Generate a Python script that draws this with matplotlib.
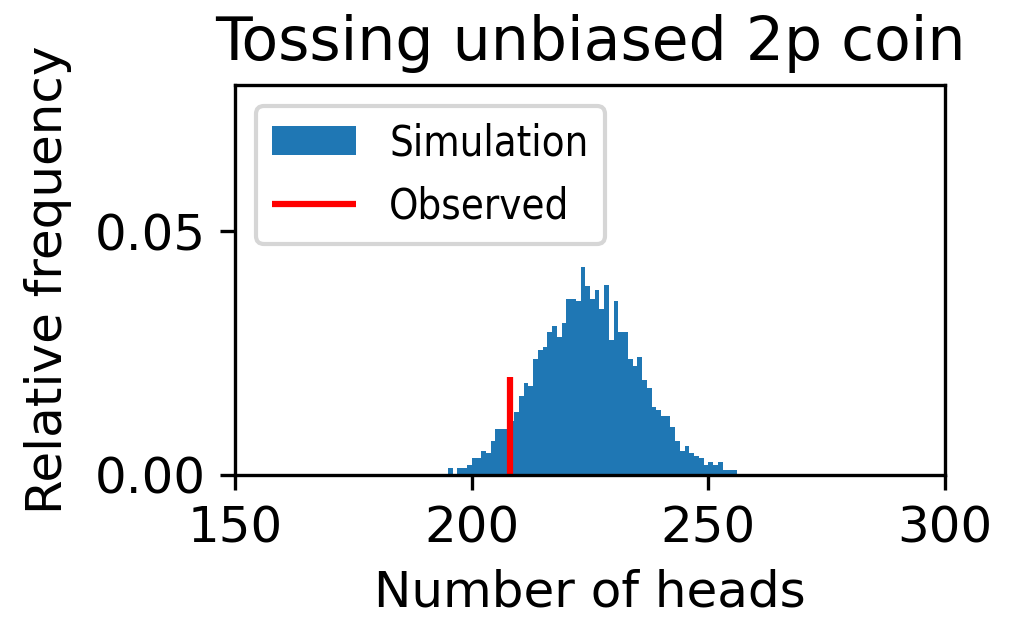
import numpy as np
import matplotlib
matplotlib.use("Agg")
from matplotlib import pyplot as plt

# relative frequency of each head count (bin [k, k+1))
heads = list(range(195, 256))
rel_freq = [
    0.0015, 0.0, 0.0015, 0.0015, 0.0021, 0.0034, 0.0034, 0.0050, 0.0045, 0.0069,  # 195-204
    0.0094, 0.0094, 0.0094, 0.0110, 0.0129, 0.0162, 0.0188, 0.0183, 0.0238, 0.0256,  # 205-214
    0.0262, 0.0293, 0.0306, 0.0283, 0.0312, 0.0361, 0.0361, 0.0356, 0.0427, 0.0387,  # 215-224
    0.0361, 0.0380, 0.0341, 0.0390, 0.0277, 0.0356, 0.0293, 0.0293, 0.0238, 0.0223,  # 225-234
    0.0242, 0.0194, 0.0178, 0.0140, 0.0134, 0.0120, 0.0120, 0.0099, 0.0069, 0.0050,  # 235-244
    0.0060, 0.0046, 0.0039, 0.0034, 0.0021, 0.0026, 0.0021, 0.0026, 0.0010, 0.0010,  # 245-254
    0.0010,                                                                          # 255
]
observed = 208
observed_height = 0.02

plt.rcParams["font.size"] = 12

fig = plt.figure(figsize=(1009 / 300, 618 / 300), dpi=300)
ax = fig.add_axes([0.2329, 0.2314, 0.7037, 0.6311])

edges = np.arange(heads[0], heads[-1] + 2)
ax.hist(heads, bins=edges, weights=rel_freq, color="#1f77b4", label="Simulation")
ax.vlines(observed, 0, observed_height, color="red", label="Observed")

ax.set_xlim(150, 300)
ax.set_ylim(0, 0.08)
ax.set_xticks([150, 200, 250, 300])
ax.set_yticks([0.0, 0.05])
ax.set_yticklabels(["0.00", "0.05"])
ax.set_xlabel("Number of heads")
ax.set_ylabel("Relative frequency", labelpad=5.5)
ax.set_title("Tossing unbiased 2p coin")
ax.legend(loc="upper left", prop={"size": 10, "stretch": "condensed"})

fig.savefig("out.png", dpi=300)
